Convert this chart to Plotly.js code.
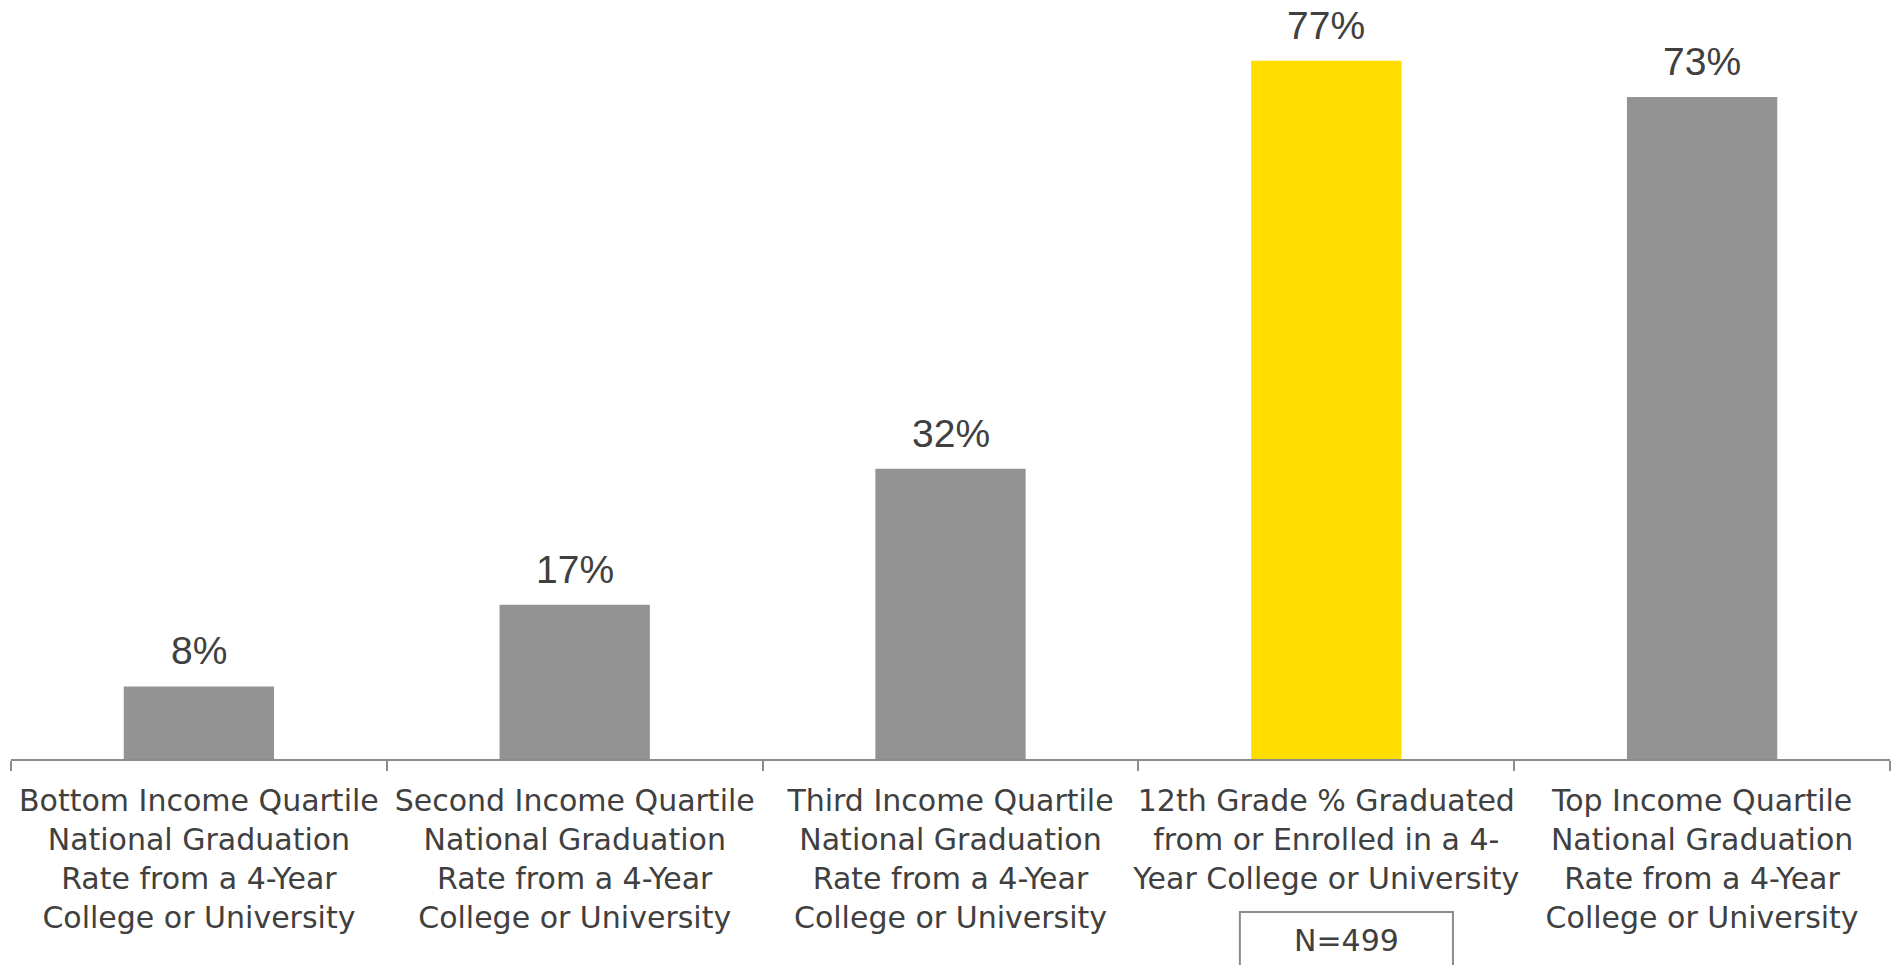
<!DOCTYPE html>
<html>
<head>
<meta charset="utf-8">
<script src="https://cdn.plot.ly/plotly-3.0.1.min.js"></script>
<style>html,body{margin:0;padding:0;background:#fff;}#chart{width:1899px;height:965px;}</style>
</head>
<body>
<div id="chart"></div>
<script>
const categories = [
  "Bottom Income Quartile<br>National Graduation<br>Rate from a 4-Year<br>College or University",
  "Second Income Quartile<br>National Graduation<br>Rate from a 4-Year<br>College or University",
  "Third Income Quartile<br>National Graduation<br>Rate from a 4-Year<br>College or University",
  "12th Grade % Graduated<br>from or Enrolled in a 4-<br>Year College or University",
  "Top Income Quartile<br>National Graduation<br>Rate from a 4-Year<br>College or University"
];
const values = [8, 17, 32, 77, 73];
const valueLabels = ["8%", "17%", "32%", "77%", "73%"];
const barColors = ["#939393", "#939393", "#939393", "#FFDD00", "#939393"];
const noteText = "N=499";

const trace = {
  type: "bar",
  x: categories,
  y: values,
  marker: {color: barColors},
  width: 0.4,
  hoverinfo: "skip"
};

const valueAnnotations = categories.map((c, i) => ({
  xref: "x", yref: "y",
  x: c, y: values[i],
  text: valueLabels[i],
  showarrow: false,
  xanchor: "center",
  yanchor: "bottom",
  yshift: 12,
  font: {family: "Liberation Sans, Arial, sans-serif", size: 39, color: "#404040"}
}));

const layout = {
  width: 1899,
  height: 965,
  margin: {l: 11, r: 9, t: 0, b: 206},
  paper_bgcolor: "#ffffff",
  plot_bgcolor: "#ffffff",
  showlegend: false,
  bargap: 0.6,
  xaxis: {
    type: "category",
    showline: true,
    linecolor: "#8c8c8c",
    linewidth: 2,
    ticks: "outside",
    tickson: "boundaries",
    ticklen: 10,
    tickcolor: "#8c8c8c",
    tickwidth: 2,
    tickangle: 0,
    ticklabelstandoff: 14,
    tickfont: {family: "DejaVu Sans, sans-serif", size: 30, color: "#404040"},
    showgrid: false,
    zeroline: false
  },
  yaxis: {
    range: [0, 83.7],
    visible: false,
    showgrid: false,
    zeroline: false
  },
  shapes: [{
    type: "rect",
    xref: "x", yref: "paper",
    x0: 2.77, x1: 3.337,
    y0: -0.2016, y1: -0.30,
    line: {color: "#8c8c8c", width: 2},
    fillcolor: "rgba(0,0,0,0)"
  }],
  annotations: valueAnnotations.concat([{
    xref: "x", yref: "paper",
    x: 3.053, y: -0.2385,
    xanchor: "center",
    yanchor: "middle",
    text: noteText,
    showarrow: false,
    font: {family: "DejaVu Sans, sans-serif", size: 30, color: "#404040"}
  }])
};

Plotly.newPlot("chart", [trace], layout, {displayModeBar: false, staticPlot: true});
</script>
</body>
</html>
